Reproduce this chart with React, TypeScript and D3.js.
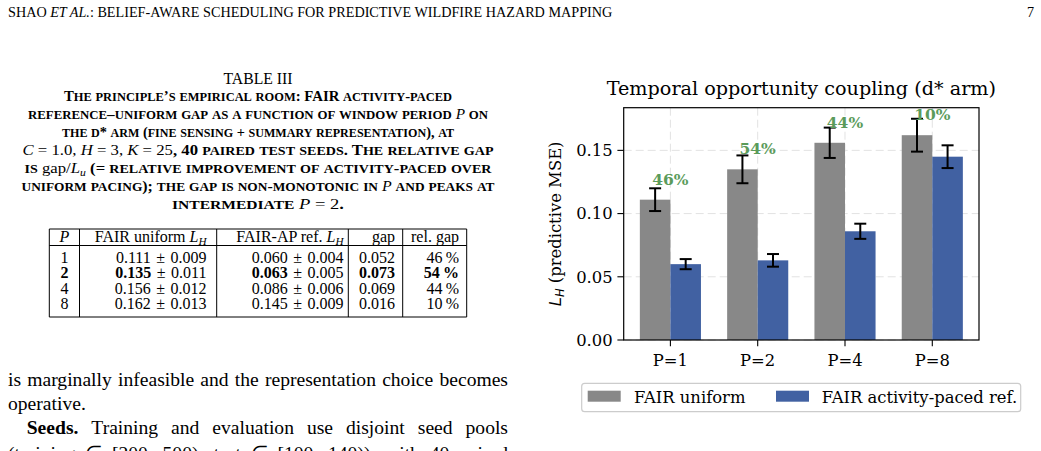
import React from 'react';
import * as d3 from 'd3';

// ---- data (Table III / chart) ----
const periods = [1, 2, 4, 8];
const categories = ['P=1', 'P=2', 'P=4', 'P=8'];
const uniformMean = [0.111, 0.135, 0.156, 0.162];
const uniformErr = [0.009, 0.011, 0.012, 0.013];
const apMean = [0.060, 0.063, 0.086, 0.145];
const apErr = [0.004, 0.005, 0.006, 0.009];
const gapVals = [0.052, 0.073, 0.069, 0.016];
const relGap = [46, 54, 44, 10];
const yTicks = [0, 0.05, 0.1, 0.15];
const boldRow = 1; // P = 2 row is set in bold

const GRAY = '#888888';
const BLUE = '#4161a2';
const GREEN = '#5b9b5b';
const SERIF = "'Liberation Serif', 'Times New Roman', serif";
const CHART_FONT = "'DejaVu Serif', serif";

// canvas text measuring for justified lines
const ctx = document.createElement('canvas').getContext('2d')!;
const measure = (s: string, font: string) => {
  ctx.font = font;
  return ctx.measureText(s).width;
};

type Word = { t: string; b?: boolean };

const Justified = ({ words, x0, x1, y, size, justify = true }: { words: Word[]; x0: number; x1: number; y: number; size: number; justify?: boolean }) => {
  const widths = words.map(w => measure(w.t, `${w.b ? 'bold ' : ''}${size}px 'Liberation Serif'`));
  const total = d3.sum(widths);
  const space = justify ? (x1 - x0 - total) / (words.length - 1) : measure(' ', `${size}px 'Liberation Serif'`);
  let x = x0;
  return (
    <text y={y} fontSize={size} fontFamily={SERIF} fill="#000">
      {words.map((w, i) => {
        const xi = x;
        x += widths[i] + space;
        return (
          <tspan key={i} x={xi} fontWeight={w.b ? 'bold' : 'normal'}>{w.t}</tspan>
        );
      })}
    </text>
  );
};

const words = (s: string): Word[] => s.split(' ').map(t => ({ t }));

// ---- chart geometry ----
const plot = { left: 623.7, right: 979, top: 107.7, bottom: 340 };
const barW = 0.35;
const x = d3.scaleLinear()
  .domain([-barW - 3.7 * 0.05, categories.length - 1 + barW + 3.7 * 0.05])
  .range([plot.left, plot.right]);
const yMax = (d3.max(uniformMean.map((m, i) => m + uniformErr[i])) as number) * 1.05;
const y = d3.scaleLinear().domain([0, yMax]).range([plot.bottom, plot.top]);

const ErrBar = ({ cx, v, e }: { cx: number; v: number; e: number }) => (
  <g stroke="#000" strokeWidth={2}>
    <line x1={cx} x2={cx} y1={y(v - e)} y2={y(v + e)} />
    <line x1={cx - 6} x2={cx + 6} y1={y(v - e)} y2={y(v - e)} />
    <line x1={cx - 6} x2={cx + 6} y1={y(v + e)} y2={y(v + e)} />
  </g>
);

const Chart = () => {
  const fs = 16.4;
  return (
    <g fontFamily={CHART_FONT}>
      <text x={(plot.left + plot.right) / 2} y={95} textAnchor="middle" fontSize={19.2}>
        Temporal opportunity coupling (d* arm)
      </text>
      {/* grid */}
      <g stroke="#e2e2e2" strokeWidth={1} strokeDasharray="8,4">
        {yTicks.map(t => (
          <line key={t} x1={plot.left} x2={plot.right} y1={y(t)} y2={y(t)} />
        ))}
        {categories.map((c, i) => (
          <line key={c} x1={x(i)} x2={x(i)} y1={plot.top} y2={plot.bottom} />
        ))}
      </g>
      {/* bars */}
      {categories.map((c, i) => (
        <g key={c}>
          <rect x={x(i - barW)} width={x(barW) - x(0)} y={y(uniformMean[i])} height={y(0) - y(uniformMean[i])} fill={GRAY} />
          <rect x={x(i)} width={x(barW) - x(0)} y={y(apMean[i])} height={y(0) - y(apMean[i])} fill={BLUE} />
          <ErrBar cx={x(i - barW / 2)} v={uniformMean[i]} e={uniformErr[i]} />
          <ErrBar cx={x(i + barW / 2)} v={apMean[i]} e={apErr[i]} />
          <text x={x(i)} y={y(Math.max(uniformMean[i], apMean[i]) + 0.012)} textAnchor="middle" fontSize={15.5} fontWeight="bold" fill={GREEN}>
            {relGap[i]}%
          </text>
        </g>
      ))}
      {/* axes frame */}
      <rect x={plot.left} y={plot.top} width={plot.right - plot.left} height={plot.bottom - plot.top} fill="none" stroke="#000" strokeWidth={1.2} />
      {yTicks.map(t => (
        <g key={t}>
          <line x1={plot.left - 6.3} x2={plot.left} y1={y(t)} y2={y(t)} stroke="#000" strokeWidth={1.1} />
          <text x={plot.left - 11} y={y(t)} dy="0.35em" textAnchor="end" fontSize={fs}>{t.toFixed(2)}</text>
        </g>
      ))}
      {categories.map((c, i) => (
        <g key={c}>
          <line x1={x(i)} x2={x(i)} y1={plot.bottom} y2={plot.bottom + 6.3} stroke="#000" strokeWidth={1.1} />
          <text x={x(i)} y={plot.bottom + 26} textAnchor="middle" fontSize={fs}>{c}</text>
        </g>
      ))}
      <text transform={`translate(561,${(plot.top + plot.bottom) / 2}) rotate(-90)`} textAnchor="middle" fontSize={fs}>
        <tspan fontFamily="'DejaVu Sans'" fontStyle="italic">L</tspan>
        <tspan fontFamily="'DejaVu Sans'" fontStyle="italic" fontSize={fs * 0.7} dy={3}>H</tspan>
        <tspan dy={-3}> (predictive MSE)</tspan>
      </text>
      {/* legend */}
      <rect x={581.7} y={383.3} width={439} height={28.4} rx={3} fill="#fff" stroke="#cccccc" strokeWidth={1.2} />
      <rect x={587.7} y={390.7} width={33} height={11} fill={GRAY} />
      <text x={634} y={402.5} fontSize={fs}>FAIR uniform</text>
      <rect x={776} y={390.7} width={33} height={11} fill={BLUE} />
      <text x={821.7} y={402.5} fontSize={fs}>FAIR activity-paced ref.</text>
    </g>
  );
};

// ---- table ----
const colX = [49.3, 79.5, 216.7, 348.3, 402.7, 466.7];
const tTop = 229, tHead = 245.5, tBottom = 317;
const rowY = [262.5, 278, 293.5, 309];
const fmt = (v: number) => v.toFixed(3);

const Table = () => {
  const fs = 16;
  const sub = (t: string) => (
    <>
      <tspan fontStyle="italic">L</tspan>
      <tspan fontStyle="italic" fontSize={fs * 0.7} dy={3}>{t}</tspan>
      <tspan dy={-3}></tspan>
    </>
  );
  const pm = (mean: number, err: number, fw: string) => (
    <>
      <tspan fontWeight={fw}>{fmt(mean)}</tspan>
      <tspan dx={1.5}> ± </tspan>
      <tspan dx={1.5}>{fmt(err)}</tspan>
    </>
  );
  return (
    <g fontFamily={SERIF} fontSize={fs} fill="#000">
      <line x1={colX[0]} x2={colX[5]} y1={tTop} y2={tTop} stroke="#000" />
      <line x1={colX[0]} x2={colX[5]} y1={tHead} y2={tHead} stroke="#000" />
      <line x1={colX[0]} x2={colX[5]} y1={tBottom} y2={tBottom} stroke="#000" />
      {colX.map((cx, i) => (
        <line key={i} x1={cx} x2={cx} y1={tTop} y2={tBottom} stroke="#000" />
      ))}
      <text x={64.4} y={242} textAnchor="middle" fontStyle="italic">P</text>
      <text x={206.5} y={242} textAnchor="end">FAIR uniform {sub('H')}</text>
      <text x={343.5} y={242} textAnchor="end">FAIR-AP ref. {sub('H')}</text>
      <text x={395} y={242} textAnchor="end">gap</text>
      <text x={459} y={242} textAnchor="end">rel. gap</text>
      {periods.map((p, i) => {
        const fw = i === boldRow ? 'bold' : 'normal';
        return (
          <g key={p}>
            <text x={64.4} y={rowY[i]} textAnchor="middle" fontWeight={fw}>{p}</text>
            <text x={206.5} y={rowY[i]} textAnchor="end">{pm(uniformMean[i], uniformErr[i], fw)}</text>
            <text x={343.5} y={rowY[i]} textAnchor="end">{pm(apMean[i], apErr[i], fw)}</text>
            <text x={395} y={rowY[i]} textAnchor="end" fontWeight={fw}>{fmt(gapVals[i])}</text>
            <text x={459} y={rowY[i]} textAnchor="end" fontWeight={fw}>{relGap[i]}{'\u2009'}%</text>
          </g>
        );
      })}
    </g>
  );
};

// manual small caps: lowercase runs become reduced capitals
const CAP_FS = 15.5;
const SC_K = 0.84;
const sc = (s: string) =>
  s.split(/([a-z]+)/).filter(Boolean).map((part, i) =>
    /^[a-z]+$/.test(part)
      ? <tspan key={i} fontSize={CAP_FS * SC_K}>{part.toUpperCase()}</tspan>
      : <tspan key={i}>{part}</tspan>
  );
const m = (s: string, it = false) => (
  <tspan fontWeight="normal" fontStyle={it ? 'italic' : 'normal'}>{s}</tspan>
);

const captionWidths = [388, 460, 392, 471, 467, 473, 172];

const Caption = () => {
  const cx = 258;
  const ys = [101, 119, 137, 155, 173, 191, 209];
  const line = (i: number, content: React.ReactNode) => (
    <text x={cx} y={ys[i]} textLength={captionWidths[i]} lengthAdjust="spacingAndGlyphs">{content}</text>
  );
  return (
    <g fontFamily={SERIF} fontSize={CAP_FS} fill="#000" textAnchor="middle">
      <text x={cx} y={83.5} fontSize={15.7}>TABLE III</text>
      <g fontWeight="bold">
        {line(0, <>{sc('The principle’s empirical room: ')}<tspan>FAIR</tspan>{sc(' activity-paced')}</>)}
        {line(1, <>{sc('reference–uniform gap as a function of window period ')}{m('P', true)}{sc(' on')}</>)}
        {line(2, <>{sc('the d* arm (fine sensing + summary representation), at')}</>)}
        {line(3, <>{m('C', true)}{m(' = 1.0, ')}{m('H', true)}{m(' = 3, ')}{m('K', true)}{m(' = 25')}{sc(', 40 paired test seeds. The relative gap')}</>)}
        {line(4, <>{sc('is ')}{m('gap/')}{m('L', true)}<tspan fontWeight="normal" fontStyle="italic" fontSize={CAP_FS * 0.7} dy={3}>u</tspan><tspan dy={-3}>{sc(' (= relative improvement of activity-paced over')}</tspan></>)}
        {line(5, <>{sc('uniform pacing); the gap is non-monotonic in ')}{m('P', true)}{sc(' and peaks at')}</>)}
        {line(6, <>{sc('intermediate ')}{m('P', true)}{m(' = 2')}.</>)}
      </g>
    </g>
  );
};

export default function App() {
  const bodyFs = 19.6;
  return (
    <svg width={1041} height={451} style={{ position: 'absolute', left: 0, top: 0, background: '#fff' }}>
      <rect width={1041} height={451} fill="#fff" />
      <text x={8} y={16.7} fontFamily={SERIF} fontSize={14.2}>
        SHAO <tspan fontStyle="italic">ET AL.</tspan>: BELIEF-AWARE SCHEDULING FOR PREDICTIVE WILDFIRE HAZARD MAPPING
      </text>
      <text x={1034} y={16.7} fontFamily={SERIF} fontSize={14.2} textAnchor="end">7</text>
      <Caption />
      <Table />
      <Justified words={words('is marginally infeasible and the representation choice becomes')} x0={8} x1={508} y={386} size={bodyFs} />
      <Justified words={words('operative.')} x0={8} x1={508} y={409.5} size={bodyFs} justify={false} />
      <Justified words={[{ t: 'Seeds.', b: true }, ...words('Training and evaluation use disjoint seed pools')]} x0={26.7} x1={508} y={434} size={bodyFs} />
      <Justified words={words('(training ∈ [200, 500); test ∈ [100, 140)), with 40 paired')} x0={8} x1={508} y={459.5} size={bodyFs} />
      <Chart />
    </svg>
  );
}
